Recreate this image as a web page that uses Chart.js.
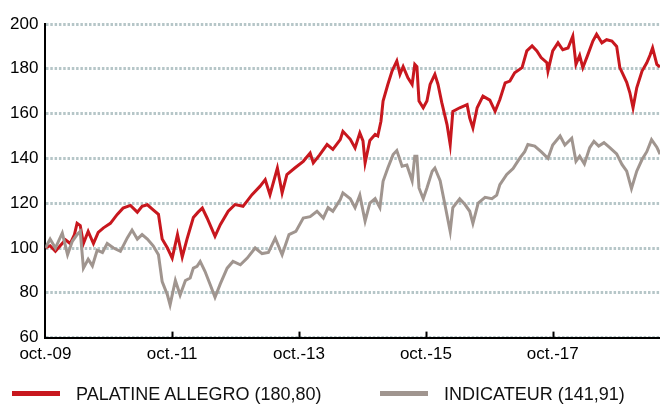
<!DOCTYPE html>
<html>
<head>
<meta charset="utf-8">
<script src="https://cdn.jsdelivr.net/npm/chart.js@4.4.0/dist/chart.umd.min.js"></script>
<style>
  html, body { margin: 0; padding: 0; background: #fff; }
  #wrap { position: relative; width: 660px; height: 405px; }
  #legend { position: absolute; left: 0; top: 382px; width: 660px; height: 24px;
            font-family: 'Liberation Sans', Arial, sans-serif; font-size: 18px; color: #111; }
  #legend .item { position: absolute; top: 0; height: 24px; line-height: 24px; white-space: nowrap; }
  #legend .bar { position: absolute; top: 9px; width: 48px; height: 5px; }
  #legend .txt { position: absolute; left: 64px; top: 0; }
</style>
</head>
<body>
<div id="wrap">
  <canvas id="perfChart" width="660" height="405"></canvas>
  <div id="legend"></div>
</div>
<script>
// months since oct. 2009
const xTickMonths = [0, 24, 48, 72, 96];
const xTickLabels = ['oct.-09', 'oct.-11', 'oct.-13', 'oct.-15', 'oct.-17'];

const fundName = 'PALATINE ALLEGRO (180,80)';
const fundMonths = [0, 0.9, 1.9, 2.8, 3.8, 4.7, 5.5, 6.0, 6.6, 7.2, 8.1, 9.1, 10.0, 11.0, 12.3, 13.6,
  14.7, 16.1, 17.4, 18.3, 19.3, 20.4, 21.4, 22.1, 23.1, 24.0, 25.0, 25.9, 26.8, 28.0, 28.9, 29.7,
  30.6, 32.1, 33.1, 34.6, 35.9, 37.4, 39.1, 40.6, 41.6, 42.5, 43.9, 44.8, 45.7, 47.2, 48.8, 50.1,
  50.7, 51.9, 53.3, 54.4, 55.8, 56.3, 57.7, 58.6, 59.5, 60.1, 60.5, 61.4, 62.4, 62.9, 63.5, 63.9,
  64.8, 65.6, 66.5, 67.1, 67.7, 68.6, 69.4, 69.9, 70.3, 70.7, 71.5, 72.2, 72.8, 73.7, 74.3, 75.0,
  76.0, 76.6, 77.1, 78.4, 79.8, 80.3, 80.9, 81.7, 82.8, 84.1, 85.1, 86.0, 87.0, 87.9, 88.8, 90.2,
  91.1, 92.1, 93.0, 93.8, 94.9, 95.1, 96.0, 97.0, 97.9, 98.9, 99.8, 100.4, 101.1, 101.7, 102.6, 103.6,
  104.3, 105.3, 106.2, 107.2, 108.1, 108.7, 109.3, 110.0, 110.6, 111.2, 111.9, 112.9, 113.8, 114.4, 114.9, 115.7,
  116.3];
const fundValues = [100, 101, 98.5, 101, 103.7, 102, 106, 111, 110, 102, 107.4, 102, 107, 109, 111, 115,
  117.8, 119, 116, 118.6, 119.3, 117, 115, 104, 100, 95.5, 106, 96, 104, 113.6, 116, 117.8,
  113.4, 105.2, 110.4, 116.4, 119.4, 118.6, 123.8, 127.5, 130.5, 123.8, 135.7, 124.6, 132.8, 135.7, 138.7, 142.4,
  138, 141.6, 146.2, 144, 148.4, 152.1, 148.5, 144.7, 151.4, 147.8, 138, 148, 150.7, 150, 156.6, 165.6,
  173, 179, 183.5, 177.5, 181, 176, 173, 182, 181, 165.6, 162.6, 165.6, 173, 177.5, 173, 165,
  155.1, 146.2, 161, 162.6, 164, 158, 153.6, 162.6, 167.8, 166, 161, 166.3, 173.7, 174.5, 178.2, 180.5,
  188, 190.2, 188, 185, 182.7, 179, 188, 191.6, 188.5, 189.3, 194.6, 182, 186, 180.5, 186, 192.4,
  195.4, 191.6, 193, 192.4, 190, 180.5, 177.5, 174, 169.3, 162.6, 171.5, 179, 182.7, 186, 189.3, 182,
  180.8];

const benchName = 'INDICATEUR (141,91)';
const benchMonths = [0, 0.9, 1.9, 3.2, 4.2, 5.1, 6.0, 6.6, 7.2, 8.1, 8.9, 9.8, 10.8, 11.7, 12.9, 14.2,
  15.5, 16.4, 17.4, 18.3, 19.3, 20.4, 21.4, 22.1, 23.1, 23.6, 24.6, 25.5, 26.5, 27.4, 28.0, 28.7,
  29.3, 30.2, 31.2, 32.1, 33.1, 34.4, 35.5, 36.9, 38.2, 39.7, 41.0, 42.2, 43.5, 44.8, 46.1, 47.4,
  48.8, 50.1, 51.4, 52.6, 53.5, 54.4, 55.8, 56.3, 57.7, 58.6, 59.5, 60.5, 61.4, 62.4, 63.3, 63.9,
  64.8, 65.8, 66.5, 67.5, 68.4, 69.4, 69.9, 70.3, 70.7, 71.5, 72.2, 73.2, 73.7, 74.7, 75.6, 76.6,
  77.1, 78.4, 79.4, 80.3, 80.9, 81.9, 83.2, 84.5, 85.4, 86.0, 87.3, 88.5, 89.8, 90.7, 91.3, 92.6,
  93.8, 95.1, 96.0, 97.4, 98.3, 99.6, 100.4, 101.1, 102.0, 103.0, 103.8, 104.7, 105.7, 106.8, 108.1, 109.1,
  110.0, 110.9, 111.9, 112.9, 113.8, 114.7, 115.7, 116.3];
const benchValues = [100, 104, 100, 106.7, 97, 103, 106, 107.4, 91, 95, 92, 99, 98, 102, 100, 98.5,
  104.5, 108, 104, 106, 104, 101, 97, 85, 79, 74.6, 85.5, 79, 85.5, 86.6, 91, 91.8,
  94, 89.6, 83.6, 78, 84, 91, 94, 92.5, 95.5, 100, 97.5, 98, 104.4, 97, 106, 107.4,
  113.4, 114, 116.4, 113.4, 118, 116.4, 121.6, 124.6, 122, 118, 123.6, 112, 120, 122, 118, 129.8,
  135.7, 141.7, 143.5, 136.5, 137, 130, 141, 141, 126.8, 122, 126.8, 134.3, 135.7, 130, 119.4, 107.4,
  118, 122, 119.4, 116.4, 111, 120, 122.6, 122, 123.6, 128.3, 132.8, 135.5, 140.2, 143, 146.2, 145.5,
  143, 140, 146, 150, 146, 149, 138.7, 141, 137.5, 144.8, 147.6, 145.5, 147, 144.8, 142, 137.3,
  134.3, 126.5, 134.3, 139.5, 143, 148.4, 145, 141.9];

const yMin = 60, yMax = 200, yStep = 20;

const toPoints = (xs, ys) => xs.map((x, i) => ({ x: x, y: ys[i] }));
const tickFont = { family: "'Liberation Sans', Arial, sans-serif", size: 17 };

// small tick marks pointing up into the plot, as in the original
const innerTicks = {
    id: 'innerTicks',
    afterDatasetsDraw(chart) {
        const xs = chart.scales.x;
        const ctx = chart.ctx;
        const bottom = chart.chartArea.bottom;
        ctx.save();
        ctx.strokeStyle = '#000';
        ctx.lineWidth = 2;
        xTickMonths.slice(1).forEach(m => {
            const px = Math.round(xs.getPixelForValue(m)) + 0.5;
            ctx.beginPath();
            ctx.moveTo(px, bottom - 6);
            ctx.lineTo(px, bottom);
            ctx.stroke();
        });
        ctx.restore();
    }
};

const chart = new Chart(document.getElementById('perfChart'), {
    type: 'line',
    data: {
        datasets: [{
            label: fundName,
            data: toPoints(fundMonths, fundValues),
            borderColor: '#c8171e',
            backgroundColor: '#c8171e',
            borderWidth: 3,
            pointRadius: 0,
            tension: 0,
            order: 2
        }, {
            label: benchName,
            data: toPoints(benchMonths, benchValues),
            borderColor: '#a0958f',
            backgroundColor: '#a0958f',
            borderWidth: 3,
            pointRadius: 0,
            tension: 0,
            order: 1
        }]
    },
    plugins: [innerTicks],
    options: {
        responsive: false,
        animation: false,
        events: [],
        layout: { padding: { left: 3, right: 0, top: 24, bottom: 33 } },
        scales: {
            x: {
                type: 'linear',
                min: 0,
                max: 116.3,
                afterBuildTicks: (scale) => { scale.ticks = xTickMonths.map(v => ({ value: v })); },
                ticks: {
                    autoSkip: false,
                    maxRotation: 0,
                    padding: 7,
                    color: '#000',
                    font: tickFont,
                    callback: (v) => xTickLabels[xTickMonths.indexOf(v)]
                },
                grid: { display: false, drawTicks: false },
                border: { display: true, color: '#000', width: 2 }
            },
            y: {
                min: yMin,
                max: yMax,
                ticks: {
                    stepSize: yStep,
                    padding: 7,
                    color: '#000',
                    font: tickFont
                },
                grid: { color: '#b6c6c8', lineWidth: 3, drawTicks: false },
                border: { display: true, color: '#000', width: 2, dash: [2.5, 1.8] }
            }
        },
        plugins: {
            legend: { display: false },
            tooltip: { enabled: false }
        }
    }
});

// legend built from the datasets
const legendEl = document.getElementById('legend');
const legendLeft = [12, 380];
chart.data.datasets.forEach((ds, i) => {
    const item = document.createElement('div');
    item.className = 'item';
    item.style.left = legendLeft[i] + 'px';
    item.innerHTML = '<span class="bar" style="background:' + ds.borderColor + '"></span>' +
                     '<span class="txt">' + ds.label + '</span>';
    legendEl.appendChild(item);
});
</script>
</body>
</html>
